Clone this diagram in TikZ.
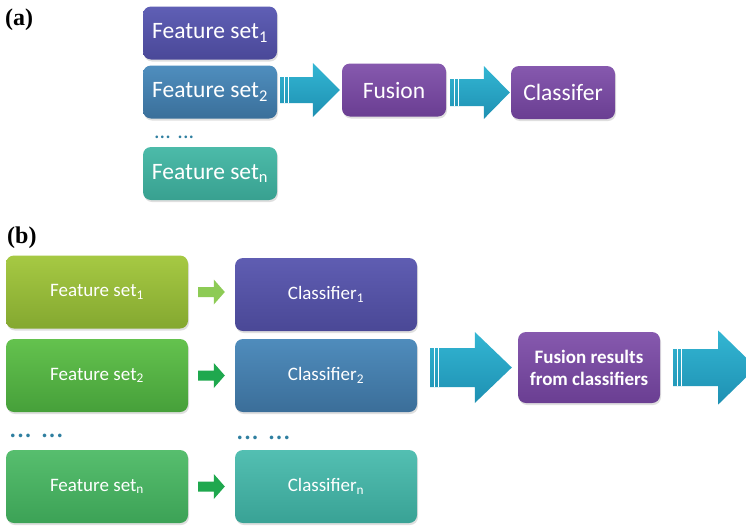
\documentclass[tikz,border=0pt]{standalone}
\usepackage{fontspec}
\setmainfont{Carlito}
\newfontfamily\labfont{Liberation Serif}
\usetikzlibrary{calc,shadows}
\definecolor{dotc}{HTML}{2F7FA0}
\definecolor{purA}{HTML}{8659AE}
\definecolor{purB}{HTML}{6A3E92}
\definecolor{arrA}{HTML}{33B6D3}
\definecolor{arrB}{HTML}{1E90B2}
\definecolor{fsaOneA}{HTML}{5F5FB5}\definecolor{fsaOneB}{HTML}{4A4898}
\definecolor{fsaTwoA}{HTML}{4F8EBE}\definecolor{fsaTwoB}{HTML}{3A6F9A}
\definecolor{fsaNA}{HTML}{4CBBA9}\definecolor{fsaNB}{HTML}{38A090}
\definecolor{fsbOneA}{HTML}{A6C943}\definecolor{fsbOneB}{HTML}{84A830}
\definecolor{fsbTwoA}{HTML}{64C24E}\definecolor{fsbTwoB}{HTML}{46A03A}
\definecolor{fsbNA}{HTML}{57BE6E}\definecolor{fsbNB}{HTML}{3CA256}
\definecolor{clOneA}{HTML}{5F5DB2}\definecolor{clOneB}{HTML}{4A4896}
\definecolor{clTwoA}{HTML}{4F8CBC}\definecolor{clTwoB}{HTML}{3B6E99}
\definecolor{clNA}{HTML}{53BFB2}\definecolor{clNB}{HTML}{39A295}
\definecolor{sarLight}{HTML}{8DCB55}
\definecolor{sarDark}{HTML}{1FA84E}
\tikzset{
  box/.style={rectangle, rounded corners=8pt, text=white, inner sep=2pt,
    drop shadow={opacity=0.25, shadow xshift=1pt, shadow yshift=-2pt}},
  boxa/.style={box, minimum width=134pt, minimum height=53pt, font=\fontsize{23.5}{27}\selectfont},
  boxp/.style={box, minimum width=104pt, minimum height=53pt, font=\fontsize{23.5}{27}\selectfont,
    top color=purA, bottom color=purB},
  boxb/.style={box, minimum width=182pt, minimum height=73pt, font=\fontsize{19}{22}\selectfont},
  shadeit/.style 2 args={top color=#1, bottom color=#2},
  dots/.style={inner sep=0pt, anchor=base west, text=dotc},
  lab/.style={inner sep=0pt, anchor=base west, font=\labfont\bfseries\fontsize{24}{27}\selectfont},
  arrowfill/.style={top color=arrA, bottom color=arrB},
  stripe/.style={draw=white, line width=0.9pt}
}
% block arrow: #1 start coordinate (x used), #2 tip coordinate, #3 shaft half, #4 head half, #5 head length, #6 style
\newcommand\blockarr[6]{%
  \path let \p1=(#1), \p2=(#2) in
    [#6] (\x1,\y2+#3) -- (\x2-#5,\y2+#3) -- (\x2-#5,\y2+#4) -- (\x2,\y2)
      -- (\x2-#5,\y2-#4) -- (\x2-#5,\y2-#3) -- (\x1,\y2-#3) -- cycle;}
\newcommand\stripes[3]{%
  \draw[stripe] let \p1=(#1), \p2=(#2) in
    (\x1+4,\y2+#3) -- (\x1+4,\y2-#3)
    (\x1+8,\y2+#3) -- (\x1+8,\y2-#3);}
\begin{document}
\begin{tikzpicture}[x=1pt,y=1pt]
\clip (0,0) rectangle (746,-525);
\fill[white] (0,0) rectangle (746,-525);

% ---------- (a) ----------
\node[lab] (la) at (5,-25) {(a)};
\node[boxa, shadeit={fsaOneA}{fsaOneB}] (fs1a) at (210,-33) {Feature set\textsubscript{1}};
\node[boxa, shadeit={fsaTwoA}{fsaTwoB}] (fs2a) at (210,-92) {Feature set\textsubscript{2}};
\node[boxa, shadeit={fsaNA}{fsaNB}] (fsna) at (210,-173.5) {Feature set\textsubscript{n}};
\node[dots, font=\fontsize{22}{26}\selectfont] (da) at (154,-138) {... ...};
\node[boxp] (fusa) at (394,-90) {Fusion};
\node[boxp] (clsa) at (563,-92.5) {Classifer};

\coordinate (a1s) at ($(fs2a.east)+(3,0)$);
\coordinate (a1t) at ($(fusa.west)+(-2,0)$);
\blockarr{a1s}{a1t}{13}{27}{27}{arrowfill}
\stripes{a1s}{a1t}{13}
\coordinate (a2s) at ($(fusa.east)+(4,0)$);
\coordinate (a2t) at ($(clsa.west)+(-1,0)$);
\blockarr{a2s}{a2t}{13.5}{26.5}{26}{arrowfill}
\stripes{a2s}{a2t}{13.5}

% ---------- (b) ----------
\node[lab] (lb) at (7,-243) {(b)};
\node[boxb, shadeit={fsbOneA}{fsbOneB}] (fs1b) at (97,-292) {Feature set\textsubscript{1}};
\node[boxb, shadeit={fsbTwoA}{fsbTwoB}] (fs2b) at (97,-375.5) {Feature set\textsubscript{2}};
\node[boxb, shadeit={fsbNA}{fsbNB}] (fsnb) at (97,-486.5) {Feature set\textsubscript{n}};
\node[boxb, shadeit={clOneA}{clOneB}] (cl1b) at (326,-294.5) {Classifier\textsubscript{1}};
\node[boxb, shadeit={clTwoA}{clTwoB}] (cl2b) at (326,-375.5) {Classifier\textsubscript{2}};
\node[boxb, shadeit={clNA}{clNB}] (clnb) at (326,-486.5) {Classifier\textsubscript{n}};
\node[dots, font=\fontsize{30}{34}\selectfont] (db1) at (9,-437) {... ...};
\node[dots, font=\fontsize{30}{34}\selectfont] (db2) at (236,-439) {... ...};
\node[box, minimum width=142pt, minimum height=71pt, top color=purA, bottom color=purB,
  align=center, font=\bfseries\fontsize{19}{22}\selectfont] (fr) at (589,-367.5)
  {Fusion results\\from classifiers};

% small arrows
\coordinate (s1s) at ($(fs1b.east)+(10,0)$);
\coordinate (s1t) at ($(cl1b.west |- fs1b.east)+(-10,0)$);
\blockarr{s1s}{s1t}{5}{12.5}{11}{fill=sarLight}
\coordinate (s2s) at ($(fs2b.east)+(10,0)$);
\coordinate (s2t) at ($(cl2b.west)+(-10,0)$);
\blockarr{s2s}{s2t}{5}{12.5}{11}{fill=sarDark}
\coordinate (sns) at ($(fsnb.east)+(10,0)$);
\coordinate (snt) at ($(clnb.west)+(-10,0)$);
\blockarr{sns}{snt}{5}{12.5}{11}{fill=sarDark}

% big arrows
\coordinate (b1s) at ($(cl2b.east)+(13,0)$);
\coordinate (b1t) at ($(fr.west)+(-6,0)$);
\blockarr{b1s}{b1t}{19.5}{35.5}{37}{arrowfill}
\stripes{b1s}{b1t}{19.5}
\coordinate (b2s) at ($(fr.east)+(13,0)$);
\coordinate (b2t) at ($(fr.east)+(96,0)$);
\blockarr{b2s}{b2t}{18.5}{37}{38}{arrowfill}
\stripes{b2s}{b2t}{18.5}
\end{tikzpicture}
\end{document}
